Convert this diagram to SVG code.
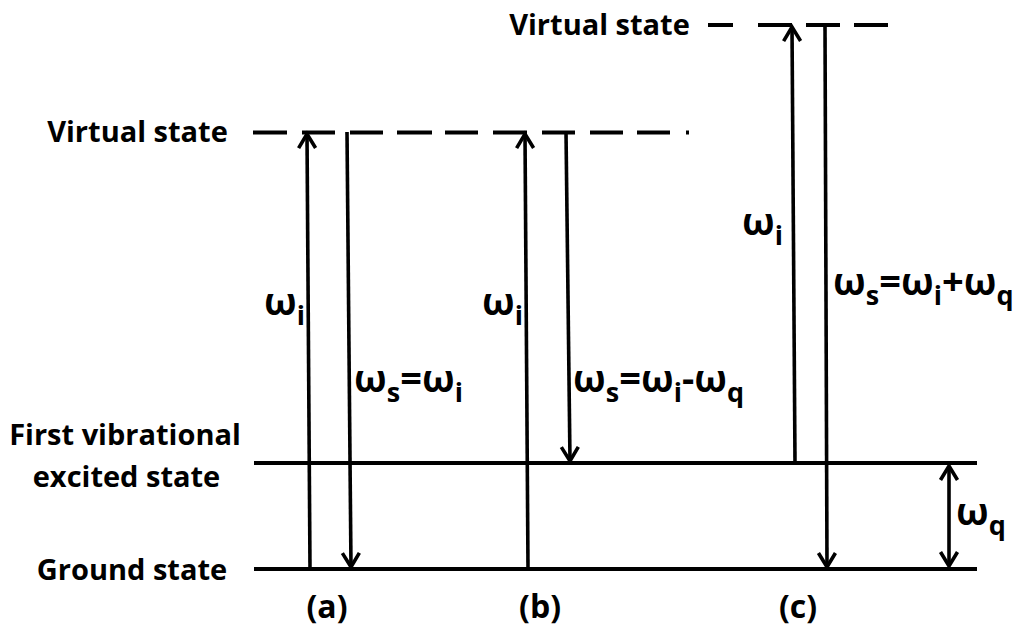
<svg xmlns="http://www.w3.org/2000/svg" width="1018" height="638" viewBox="0 0 1018 638">
<style>
  text { font-family: "Open Sans", "Liberation Sans", sans-serif; font-weight: bold; fill: #000; }
  .lbl { font-size: 29px; }
  .cap { font-size: 32px; }
  .w { font-size: 38px; }
  .sub { font-size: 27px; }
  .lvl { stroke: #000; stroke-width: 4; fill: none; }
  .arr { stroke: #000; stroke-width: 3.6; fill: none; }
</style>
<defs>
  <marker id="ah" markerUnits="userSpaceOnUse" markerWidth="30" markerHeight="30" refX="0" refY="0" viewBox="-20 -15 30 30" orient="auto-start-reverse" overflow="visible">
    <path d="M -14 -8.5 L 0 0 L -14 8.5" fill="none" stroke="#000" stroke-width="3.6" stroke-linejoin="miter"/>
  </marker>
</defs>
<rect width="1018" height="638" fill="#fff"/>

<g id="levels">
  <path class="lvl" d="M254 463 H977 M254 569 H977"/>
  <path class="lvl" stroke-width="3.5" d="M253 132.5 H287 M302 132.5 H335 M350 132.5 H383 M397 132.5 H432 M445 132.5 H478 M493 132.5 H527 M542 132.5 H575 M590 132.5 H623 M637 132.5 H670 M686 132.5 H689"/>
  <path class="lvl" stroke-width="3.5" d="M708 25 H733 M758 25 H792 M806 25 H840 M854 25 H888"/>
</g>

<g id="connectors">
  <line class="arr" x1="310" y1="569" x2="307" y2="134" marker-end="url(#ah)"/>
  <line class="arr" x1="347" y1="132" x2="351" y2="567" marker-end="url(#ah)"/>
  <line class="arr" x1="528" y1="569" x2="525" y2="134" marker-end="url(#ah)"/>
  <line class="arr" x1="566" y1="132" x2="570" y2="461" marker-end="url(#ah)"/>
  <line class="arr" x1="795" y1="463" x2="792" y2="27" marker-end="url(#ah)"/>
  <line class="arr" x1="825" y1="25" x2="827" y2="567" marker-end="url(#ah)"/>
  <line class="arr" x1="949" y1="466" x2="949" y2="566" marker-start="url(#ah)" marker-end="url(#ah)"/>
</g>

<g id="label-virtual-left"><text class="lbl" x="137.5" y="142" text-anchor="middle">Virtual state</text></g>
<g id="label-virtual-top"><text class="lbl" x="599.5" y="35" text-anchor="middle">Virtual state</text></g>
<g id="label-first"><text class="lbl" x="125" y="445" text-anchor="middle">First vibrational</text><text class="lbl" x="126.5" y="487" text-anchor="middle">excited state</text></g>
<g id="label-ground"><text class="lbl" x="132" y="580" text-anchor="middle">Ground state</text></g>

<g id="wa"><text class="w" x="264" y="315">ω<tspan class="sub" dy="10">i</tspan></text></g>
<g id="wsa"><text class="w" x="354" y="392">ω<tspan class="sub" dy="10">s</tspan><tspan dy="-10">=ω</tspan><tspan class="sub" dy="10">i</tspan></text></g>
<g id="wb"><text class="w" x="482" y="315">ω<tspan class="sub" dy="10">i</tspan></text></g>
<g id="wsb"><text class="w" x="573" y="392">ω<tspan class="sub" dy="10">s</tspan><tspan dy="-10">=ω</tspan><tspan class="sub" dy="10">i</tspan><tspan dy="-10">-ω</tspan><tspan class="sub" dy="10">q</tspan></text></g>
<g id="wc"><text class="w" x="742" y="235">ω<tspan class="sub" dy="10">i</tspan></text></g>
<g id="wsc"><text class="w" x="833" y="295">ω<tspan class="sub" dy="10">s</tspan><tspan dy="-10">=ω</tspan><tspan class="sub" dy="10">i</tspan><tspan dy="-10">+ω</tspan><tspan class="sub" dy="10">q</tspan></text></g>
<g id="wq"><text class="w" x="956" y="525">ω<tspan class="sub" dy="10">q</tspan></text></g>

<g id="label-a"><text class="cap" x="327" y="618" text-anchor="middle">(a)</text></g>
<g id="label-b"><text class="cap" x="540" y="618" text-anchor="middle">(b)</text></g>
<g id="label-c"><text class="cap" x="798" y="618" text-anchor="middle">(c)</text></g>
</svg>
